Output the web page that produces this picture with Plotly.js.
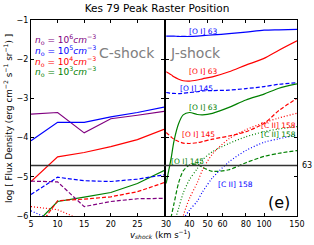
<!DOCTYPE html>
<html>
<head>
<meta charset="utf-8">
<script src="https://cdn.plot.ly/plotly-3.0.1.min.js"></script>
<style>html,body{margin:0;padding:0;background:#fff;}#chart{width:314px;height:245px;}</style>
</head>
<body>
<div id="chart"></div>
<script>
// ---- C-shock (left panel) ----
const vC = [5, 10, 15, 20, 25, 30];
const cN6_OI63  = [-3.40, -3.36, -3.88, -3.52, -3.43, -3.33];
const cN5_OI63  = [-4.08, -3.61, -3.61, -3.47, -3.36, -3.22];
const cN4_OI63  = [-5.12, -4.49, -4.38, -4.23, -4.05, -3.79];
const cN3_OI63  = [-6.32, -5.63, -5.52, -5.40, -5.17, -4.84];
const cN6_OI145 = [-5.11, -5.13, -5.76, -5.63, -5.56, -5.55];
const cN5_OI145 = [-5.45, -5.01, -5.10, -5.12, -5.06, -4.95];
const cN4_OI145 = [-6.55, -5.61, -5.57, -5.51, -5.38, -5.15];
const cN4_CII158 = [-5.76, -5.84, -6.13, -6.35, -6.55, -6.75];
const cN5_CII158 = [-5.87, -6.17, -6.40, -6.60, -6.80, -7.00];

// ---- J-shock (right panel) ----
const vJ = [30, 31, 32, 33, 35, 37, 40, 44, 47, 53, 65, 80, 100, 120, 150];
const jN5_OI63  = [-1.41, -1.41, -1.41, -1.41, -1.42, -1.42, -1.42, -1.41, -1.40, -1.38, -1.35, -1.31, -1.26, -1.25, -1.24];
const jN4_OI63  = [-2.32, -2.36, -2.40, -2.45, -2.51, -2.55, -2.56, -2.53, -2.50, -2.45, -2.32, -2.15, -1.98, -1.77, -1.53];
const jN5_OI145 = [-2.85, -2.86, -2.87, -2.87, -2.88, -2.87, -2.85, -2.83, -2.81, -2.80, -2.79, -2.75, -2.70, -2.64, -2.60];
const jN3_OI63  = [-5.17, -4.83, -4.49, -4.10, -3.64, -3.42, -3.36, -3.41, -3.42, -3.38, -3.23, -3.04, -2.89, -2.74, -2.63];
const jN4_OI145 = [-3.87, -3.93, -3.99, -4.04, -4.10, -4.14, -4.15, -4.13, -4.10, -4.04, -3.96, -3.85, -3.64, -3.31, -3.00];
const jN3_OI145 = [-6.80, -6.40, -6.00, -5.70, -5.15, -4.85, -4.70, -4.68, -4.76, -4.86, -4.82, -4.64, -4.48, -4.40, -4.33];
const jN3_CII158 = [-7.00, -6.70, -6.40, -6.20, -5.80, -5.42, -5.07, -4.79, -4.57, -4.36, -4.15, -3.98, -3.85, -3.78, -3.72];
const jN4_CII158 = [-8.00, -7.60, -7.30, -7.00, -6.50, -6.00, -5.55, -5.15, -4.82, -4.42, -4.03, -3.80, -3.62, -3.50, -3.38];
const jN5_CII158 = [-8.00, -7.70, -7.40, -7.10, -6.60, -6.10, -5.85, -5.62, -5.38, -5.03, -4.62, -4.33, -4.12, -4.03, -3.93];

const obsOI63 = -4.71;

const xTicksC = [5, 10, 15, 20, 25, 30];
const xTickTextC = ['5', '10', '15', '20', '25', ''];
const xTicksJ = [30, 40, 50, 60, 80, 100, 150];
const yTicks = [-6, -5, -4, -3, -2, -1];

const PURPLE = '#800080', BLUE = '#0000ff', RED = '#ff0000', GREEN = '#008000';
const DASH = '4px,2px', DOT = '1px,2px';

function tr(x, y, color, dash, axis, spline) {
  return {
    x: x, y: y, type: 'scatter', mode: 'lines',
    xaxis: axis === 2 ? 'x2' : 'x', yaxis: axis === 2 ? 'y2' : 'y',
    line: {color: color, width: 1.2, dash: dash, shape: spline ? 'spline' : 'linear', smoothing: 0.8},
    hoverinfo: 'skip', showlegend: false
  };
}

const data = [
  tr(vC, cN6_OI63, PURPLE, 'solid', 1),
  tr(vC, cN5_OI63, BLUE, 'solid', 1),
  tr(vC, cN4_OI63, RED, 'solid', 1),
  tr(vC, cN3_OI63, GREEN, 'solid', 1),
  tr(vC, cN6_OI145, PURPLE, DASH, 1),
  tr(vC, cN5_OI145, BLUE, DASH, 1),
  tr(vC, cN4_OI145, RED, DASH, 1),
  tr(vC, cN4_CII158, RED, DOT, 1),
  tr(vC, cN5_CII158, BLUE, DOT, 1),
  tr(vJ, jN5_OI63, BLUE, 'solid', 2, true),
  tr(vJ, jN4_OI63, RED, 'solid', 2, true),
  tr(vJ, jN5_OI145, BLUE, DASH, 2, true),
  tr(vJ, jN3_OI63, GREEN, 'solid', 2, true),
  tr(vJ, jN4_OI145, RED, DASH, 2, true),
  tr(vJ, jN3_OI145, GREEN, DASH, 2, true),
  tr(vJ, jN3_CII158, GREEN, DOT, 2, true),
  tr(vJ, jN4_CII158, RED, DOT, 2, true),
  tr(vJ, jN5_CII158, BLUE, DOT, 2, true)
];

const FONT = 'DejaVu Sans, Arial, sans-serif';
const axisCommon = {
  showline: true, mirror: 'ticks', linecolor: '#000', linewidth: 1,
  ticks: 'inside', ticklen: 3, tickcolor: '#000', tickwidth: 1,
  showgrid: false, zeroline: false, tickfont: {size: 8, color: '#000', family: FONT}
};

function lab(text, x, y, color, size, anchor) {
  return {text: text, xref: 'paper', yref: 'paper', x: x, y: y, showarrow: false,
    xanchor: anchor || 'center', yanchor: 'middle', font: {size: size, color: color, family: FONT}};
}

const layout = {
  width: 314, height: 245,
  margin: {l: 31, r: 17, t: 20, b: 29},
  paper_bgcolor: '#fff', plot_bgcolor: '#fff',
  font: {family: FONT},
  title: {text: 'Kes 79 Peak Raster Position', font: {size: 10.5, color: '#000', family: FONT},
          xref: 'container', x: 0.5, y: 0.965, yanchor: 'middle'},
  xaxis: Object.assign({}, axisCommon, {domain: [0, 0.5], range: [5, 30], tickvals: xTicksC, ticktext: xTickTextC, anchor: 'y'}),
  yaxis: Object.assign({}, axisCommon, {domain: [0, 1], range: [-6, -1], tickvals: yTicks, anchor: 'x'}),
  xaxis2: Object.assign({}, axisCommon, {domain: [0.508, 1], type: 'log', range: [Math.log10(30), Math.log10(150)], tickvals: xTicksJ, anchor: 'y2'}),
  yaxis2: Object.assign({}, axisCommon, {domain: [0, 1], range: [-6, -1], tickvals: yTicks, anchor: 'x2', showticklabels: false}),
  shapes: [
    {type: 'line', xref: 'paper', yref: 'y', x0: 0, x1: 1, y0: obsOI63, y1: obsOI63,
     line: {color: '#333', width: 1.5}}
  ],
  annotations: [
    lab('63', 1.012, 0.26, '#000', 8, 'left'),
    lab('<i>n</i><sub>o</sub> = 10<sup>6</sup><i>cm</i><sup>−3</sup>', 0.0075, 0.898, PURPLE, 9, 'left'),
    lab('<i>n</i><sub>o</sub> = 10<sup>5</sup><i>cm</i><sup>−3</sup>', 0.0075, 0.844, BLUE, 9, 'left'),
    lab('<i>n</i><sub>o</sub> = 10<sup>4</sup><i>cm</i><sup>−3</sup>', 0.0075, 0.790, RED, 9, 'left'),
    lab('<i>n</i><sub>o</sub> = 10<sup>3</sup><i>cm</i><sup>−3</sup>', 0.0075, 0.735, GREEN, 9, 'left'),
    lab('C-shock', 0.361, 0.832, '#808080', 14),
    lab('J-shock', 0.620, 0.832, '#808080', 14),
    lab('[O I] 63', 0.650, 0.939, BLUE, 7.5),
    lab('[O I] 63', 0.647, 0.735, RED, 7.5),
    lab('[O I] 145', 0.624, 0.653, BLUE, 7.5),
    lab('[O I] 63', 0.647, 0.556, GREEN, 7.5),
    lab('[O I] 145', 0.628, 0.418, RED, 7.5),
    lab('[C II] 158', 0.929, 0.464, RED, 7.5),
    lab('[C II] 158', 0.929, 0.418, GREEN, 7.5),
    lab('[O I] 145', 0.590, 0.276, GREEN, 7.5),
    lab('[C II] 158', 0.767, 0.163, BLUE, 7.5),
    lab('(e)', 0.932, 0.071, '#000', 16),
    {text: 'log [ Flux Density (erg cm<sup>−2</sup> s<sup>−1</sup> sr<sup>−1</sup>) ]', xref: 'paper', yref: 'paper',
     x: -0.0865, y: 0.5, textangle: -90, showarrow: false, xanchor: 'center', yanchor: 'middle',
     font: {size: 8.8, color: '#000', family: FONT}},
    {text: '<i>v</i><sub><i>shock</i></sub> (km s<sup>−1</sup>)', xref: 'paper', yref: 'paper',
     x: 0.485, y: -0.09, showarrow: false, xanchor: 'center', yanchor: 'middle',
     font: {size: 8.5, color: '#000', family: FONT}}
  ]
};

Plotly.newPlot('chart', data, layout, {staticPlot: true, displayModeBar: false});
</script>
</body>
</html>
